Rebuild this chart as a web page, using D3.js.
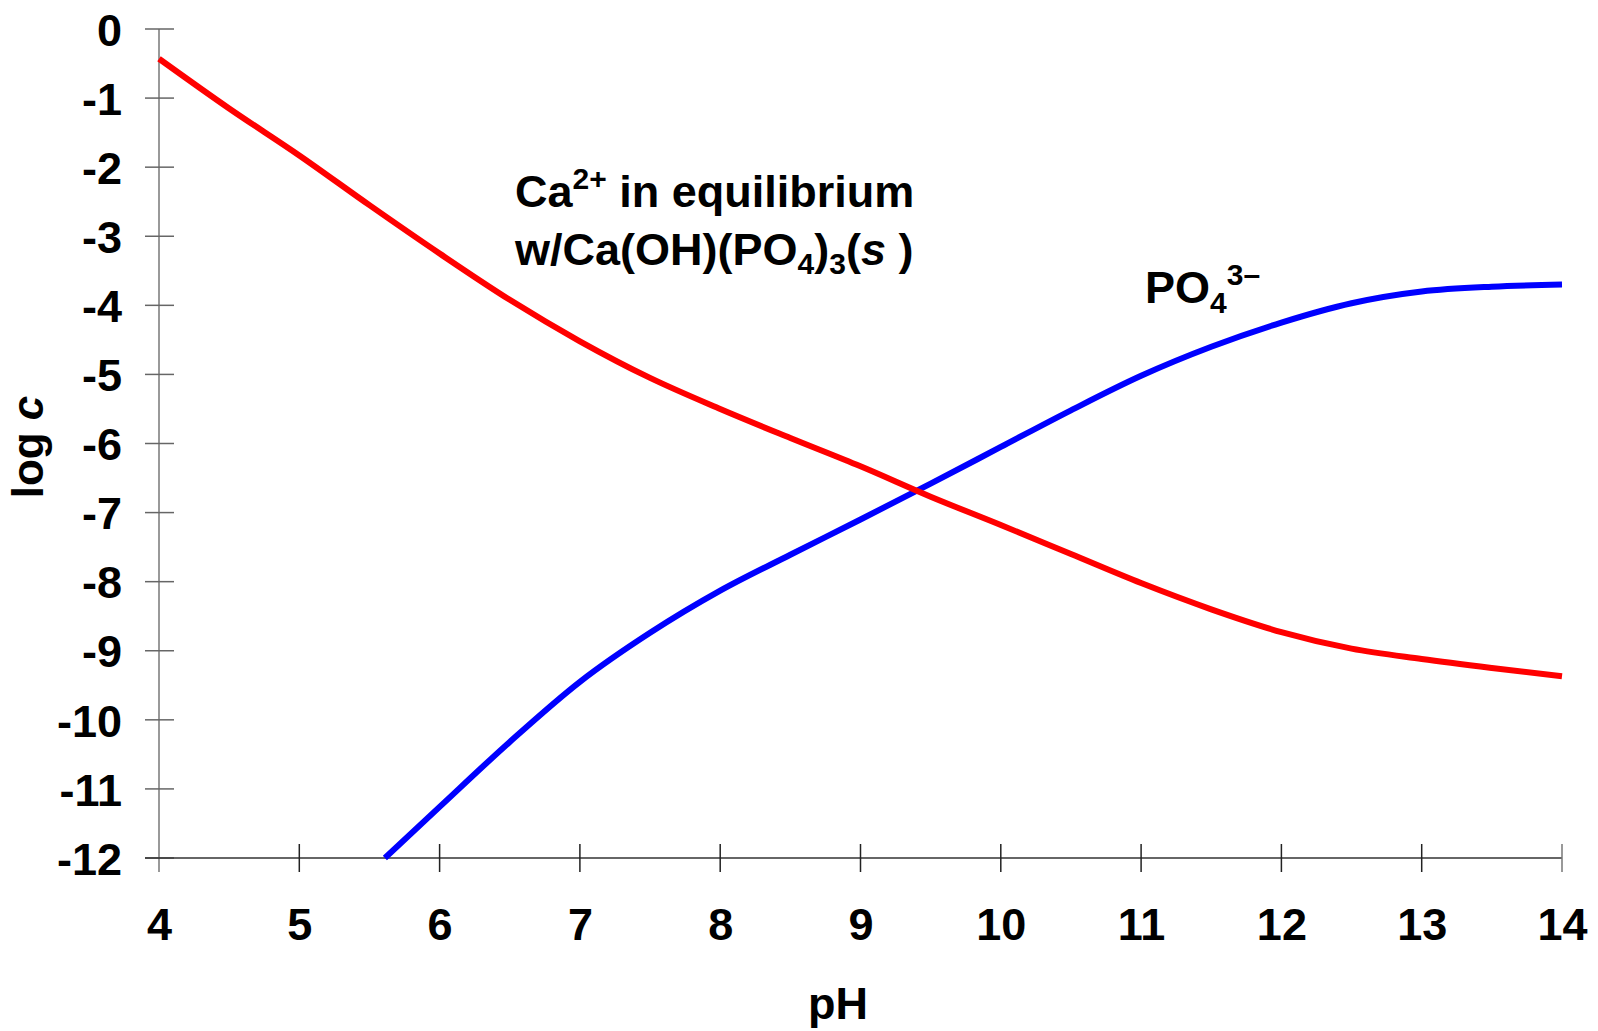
<!DOCTYPE html>
<html>
<head>
<meta charset="utf-8">
<script src="https://cdn.jsdelivr.net/npm/d3@7"></script>
<style>
  html, body { margin: 0; padding: 0; background: #fff; }
  svg { display: block; font-family: "Liberation Sans", Arial, sans-serif; font-weight: bold; }
</style>
</head>
<body>
<svg id="chart" width="1598" height="1031"></svg>
<script>
// ---- data ----
const xTicks = [4, 5, 6, 7, 8, 9, 10, 11, 12, 13, 14];
const yTicks = [0, -1, -2, -3, -4, -5, -6, -7, -8, -9, -10, -11, -12];

const caPH   = [4.0, 4.5, 5.0, 5.5, 6.0, 6.5, 7.0, 7.5, 8.0, 8.5, 9.0, 9.5, 10.0, 10.5, 11.0, 11.5, 12.0, 12.5, 13.0, 13.5, 14.0];
const caLogC = [-0.43, -1.15, -1.83, -2.55, -3.25, -3.92, -4.52, -5.05, -5.50, -5.92, -6.33, -6.77, -7.18, -7.60, -8.02, -8.40, -8.73, -8.97, -9.12, -9.25, -9.37];

const po4PH   = [5.61, 6.0, 6.5, 7.0, 7.5, 8.0, 8.5, 9.0, 9.5, 10.0, 10.5, 11.0, 11.5, 12.0, 12.5, 13.0, 13.5, 14.0];
const po4LogC = [-12.0, -11.26, -10.32, -9.45, -8.74, -8.13, -7.61, -7.10, -6.58, -6.05, -5.52, -5.02, -4.60, -4.25, -3.97, -3.80, -3.73, -3.70];

// ---- scales ----
const x = d3.scaleLinear().domain([4, 14]).range([159, 1562]);
const y = d3.scaleLinear().domain([0, -12]).range([29, 858]);

const svg = d3.select("#chart");
const fmt = d => String(d);

// y axis (labels via d3 axis)
const yAxis = svg.append("g")
  .attr("transform", `translate(${x(4)},0)`)
  .call(d3.axisLeft(y).tickValues(yTicks).tickSize(0).tickPadding(37).tickFormat(fmt));
yAxis.select(".domain").remove();
yAxis.selectAll("text")
  .attr("font-size", 45).attr("font-weight", "bold").attr("fill", "#000")
  .attr("font-family", "Liberation Sans, Arial, sans-serif")
  .attr("dy", "0.36em");

// y axis line & cross ticks
svg.append("line")
  .attr("x1", x(4)).attr("x2", x(4))
  .attr("y1", y(0)).attr("y2", y(-12) + 14)
  .attr("stroke", "#777").attr("stroke-width", 1.5);
svg.selectAll(".ytick").data(yTicks).enter().append("line")
  .attr("x1", x(4) - 14).attr("x2", x(4) + 15)
  .attr("y1", d => y(d)).attr("y2", d => y(d))
  .attr("stroke", "#666").attr("stroke-width", 1.5);

// x axis
const xAxis = svg.append("g")
  .attr("transform", `translate(0,${y(-12)})`)
  .call(d3.axisBottom(x).tickValues(xTicks).tickSize(0).tickPadding(0).tickFormat(fmt));
xAxis.select(".domain").remove();
xAxis.selectAll("text")
  .attr("font-size", 45).attr("font-weight", "bold").attr("fill", "#000")
  .attr("font-family", "Liberation Sans, Arial, sans-serif")
  .attr("y", 82).attr("dy", 0);

svg.append("line")
  .attr("x1", x(4) - 14).attr("x2", x(14))
  .attr("y1", y(-12)).attr("y2", y(-12))
  .attr("stroke", "#333").attr("stroke-width", 1.5);
svg.selectAll(".xtick").data(xTicks.slice(1)).enter().append("line")
  .attr("x1", d => x(d)).attr("x2", d => x(d))
  .attr("y1", y(-12) - 14).attr("y2", y(-12) + 14)
  .attr("stroke", d => d === 14 ? "#777" : "#222").attr("stroke-width", 1.5);

// axis titles
svg.append("text")
  .attr("x", 838).attr("y", 1019)
  .attr("text-anchor", "middle")
  .attr("font-size", 45).attr("font-weight", "bold")
  .text("pH");

const yt = svg.append("text")
  .attr("transform", "translate(43,447) rotate(-90)")
  .attr("text-anchor", "middle")
  .attr("font-size", 44).attr("font-weight", "bold");
yt.append("tspan").text("log ");
yt.append("tspan").attr("font-style", "italic").text("c");

// lines
const line = d3.line().x(d => x(d[0])).y(d => y(d[1])).curve(d3.curveMonotoneX);

svg.append("path")
  .datum(po4PH.map((p, i) => [p, po4LogC[i]]))
  .attr("d", line)
  .attr("fill", "none").attr("stroke", "#0000FF").attr("stroke-width", 6);

svg.append("path")
  .datum(caPH.map((p, i) => [p, caLogC[i]]))
  .attr("d", line)
  .attr("fill", "none").attr("stroke", "#FF0000").attr("stroke-width", 6);

// annotations
const a1 = svg.append("text").attr("x", 515).attr("y", 207).attr("font-size", 45).attr("font-weight", "bold");
a1.append("tspan").text("Ca");
a1.append("tspan").attr("font-size", 30).attr("dy", -18).text("2+");
a1.append("tspan").attr("dy", 18).text(" in equilibrium");

const a2 = svg.append("text").attr("x", 515).attr("y", 265).attr("font-size", 45).attr("font-weight", "bold");
a2.append("tspan").text("w/Ca(OH)(PO");
a2.append("tspan").attr("font-size", 30).attr("dy", 9).text("4");
a2.append("tspan").attr("dy", -9).text(")");
a2.append("tspan").attr("font-size", 30).attr("dy", 9).text("3");
a2.append("tspan").attr("dy", -9).text("(");
a2.append("tspan").attr("font-style", "italic").text("s");
a2.append("tspan").text(" )");

const a3 = svg.append("text").attr("x", 1145).attr("y", 303).attr("font-size", 45).attr("font-weight", "bold");
a3.append("tspan").text("PO");
a3.append("tspan").attr("font-size", 30).attr("dy", 10).text("4");
a3.append("tspan").attr("font-size", 30).attr("dy", -28).text("3\u2013");
</script>
</body>
</html>
